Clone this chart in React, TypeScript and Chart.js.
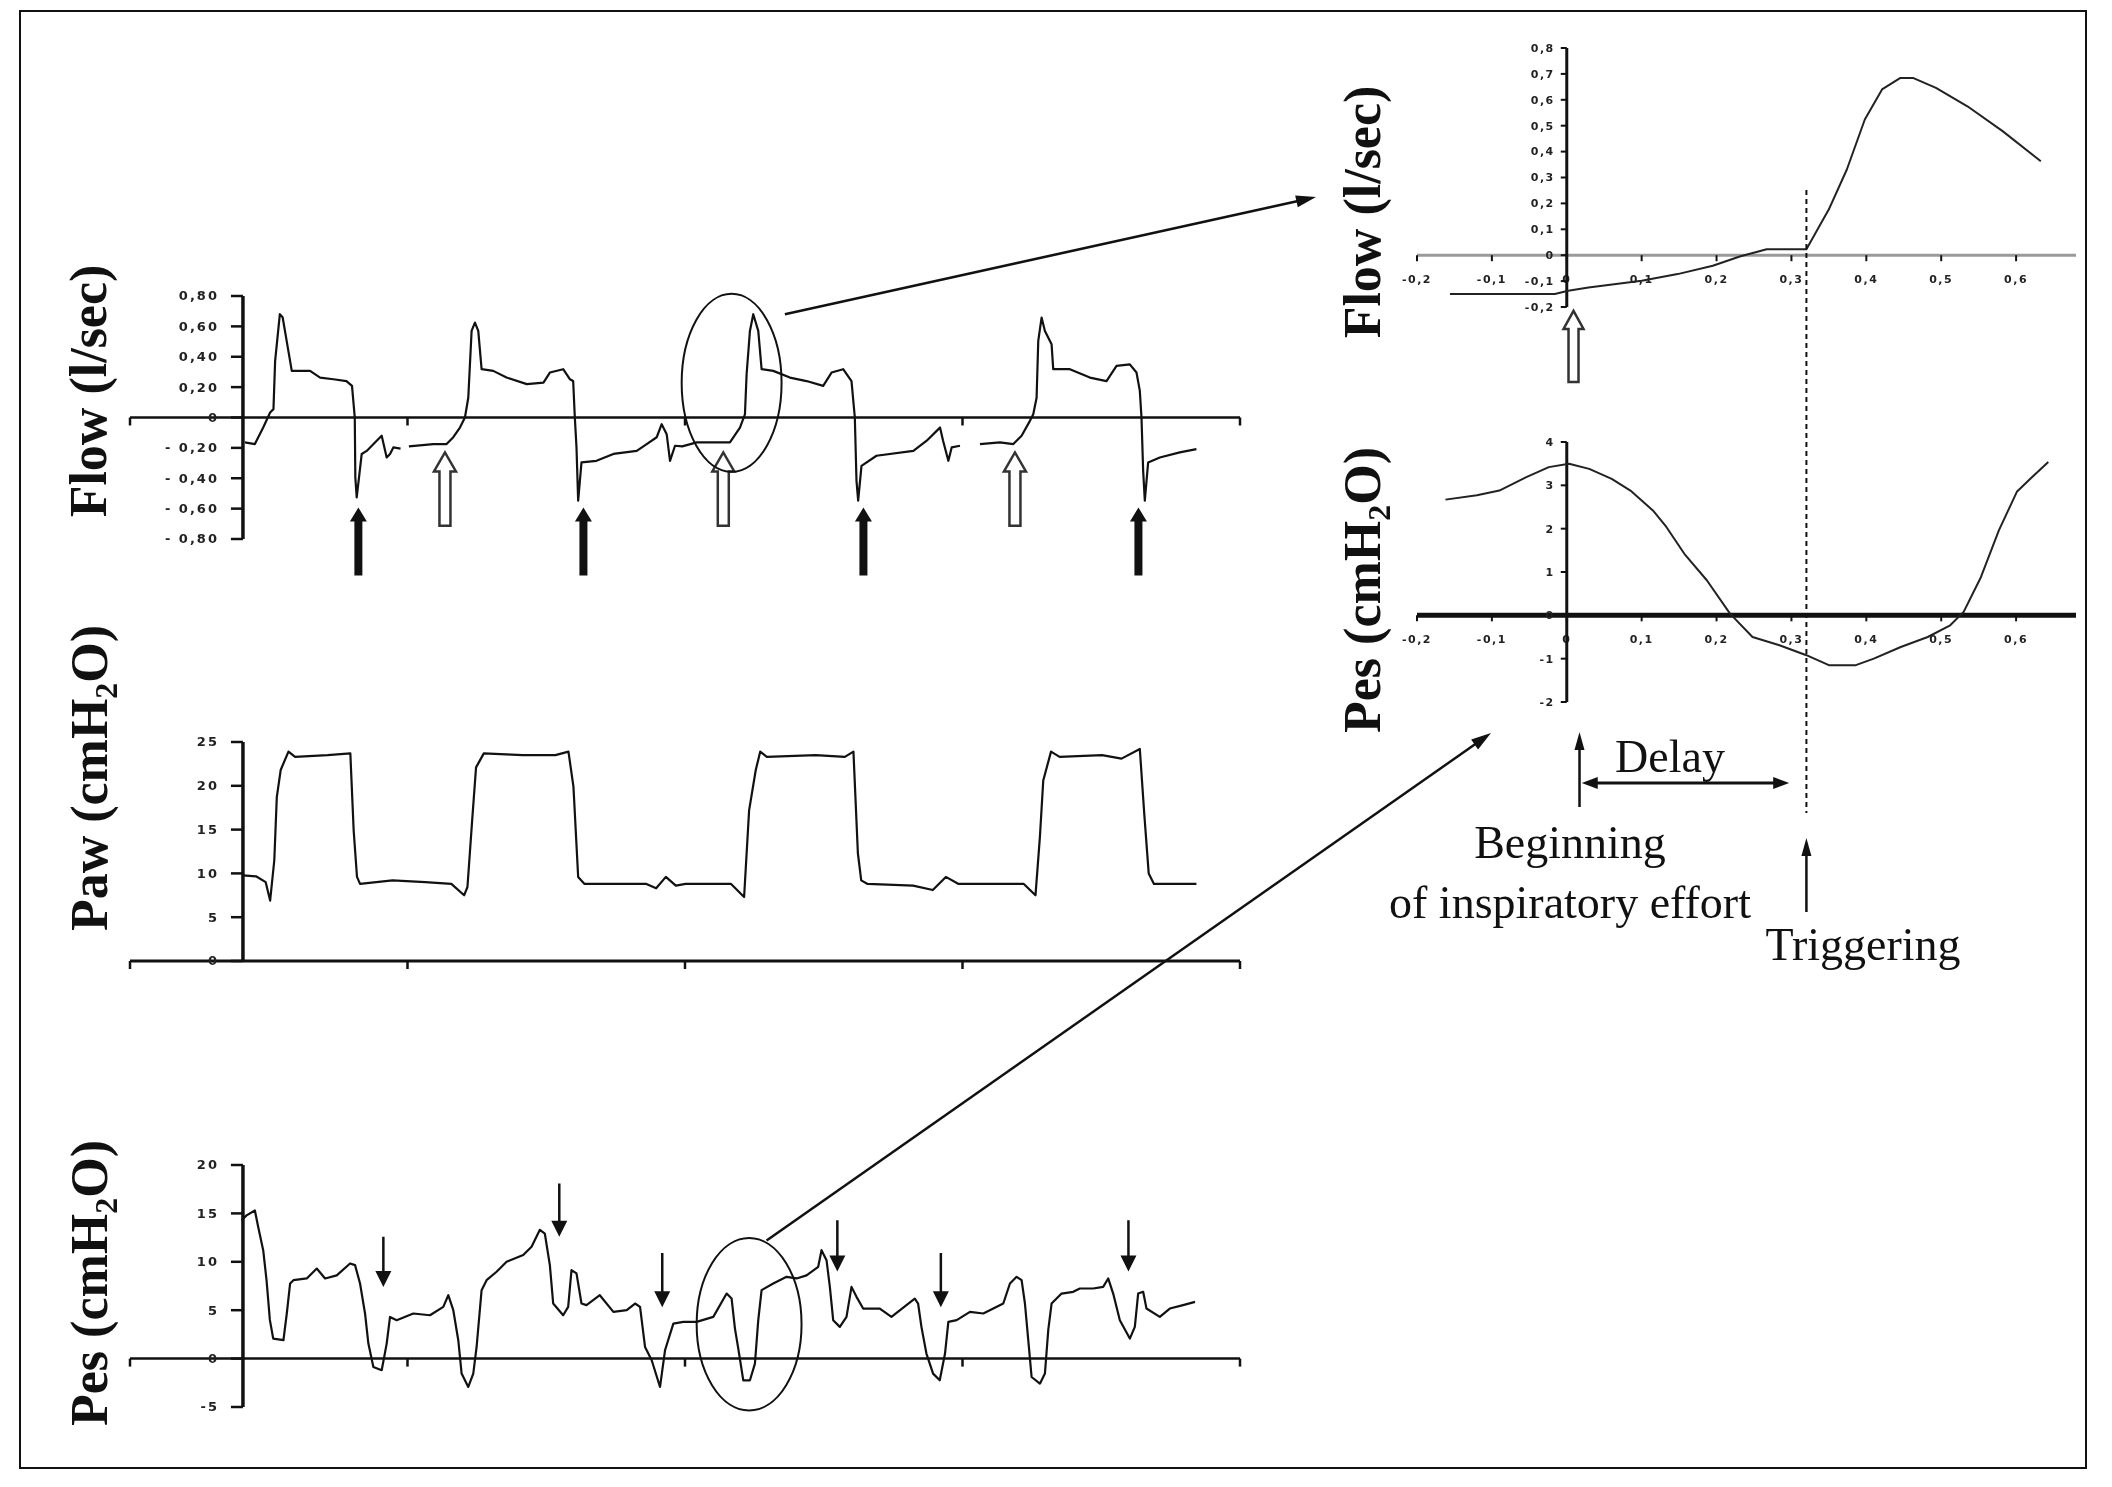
import React, { useEffect, useRef } from "react";
import { Chart, registerables } from "chart.js";

Chart.register(...registerables);

const PAGE_W = 2112;
const PAGE_H = 1487;

// ================= LEFT PANELS (shared time axis, arbitrary units) =================
const leftTimeTicks = [0, 1, 2, 3, 4];
const leftYAxisTime = 0.407;

// Flow (l/sec)
const flowTime = [
  0.414, 0.45, 0.48, 0.505, 0.517, 0.523, 0.54, 0.55, 0.565, 0.583,
  0.649, 0.685, 0.733, 0.78, 0.8, 0.81, 0.812, 0.817, 0.835, 0.853,
  0.889, 0.907, 0.925, 0.937, 0.949, 0.975, 0.99, 1.005, 1.093, 1.141,
  1.165, 1.189, 1.207, 1.219, 1.231, 1.243, 1.255, 1.267, 1.309, 1.357,
  1.43, 1.49, 1.513, 1.561, 1.585, 1.597, 1.603, 1.609, 1.615, 1.627,
  1.681, 1.742, 1.826, 1.862, 1.898, 1.916, 1.934, 1.946, 1.964, 1.99,
  2.042, 2.162, 2.198, 2.216, 2.222, 2.234, 2.246, 2.264, 2.276, 2.318,
  2.378, 2.438, 2.498, 2.528, 2.57, 2.6, 2.612, 2.618, 2.624, 2.636,
  2.69, 2.823, 2.871, 2.907, 2.919, 2.93, 2.949, 2.961, 2.991, 3.03,
  3.063, 3.135, 3.183, 3.213, 3.243, 3.255, 3.267, 3.273, 3.285, 3.297,
  3.321, 3.327, 3.387, 3.459, 3.519, 3.555, 3.603, 3.627, 3.639, 3.645,
  3.651, 3.657, 3.669, 3.711, 3.783, 3.843,
];
const flowValue = [
  -0.164, -0.175, -0.066, 0.033, 0.055, 0.373, 0.68, 0.66, 0.5, 0.307,
  0.307, 0.263, 0.252, 0.24, 0.208, 0, -0.395, -0.526, -0.24, -0.22,
  -0.153, -0.12, -0.263, -0.24, -0.197, -0.205, null, -0.19, -0.175, -0.175,
  -0.13, -0.066, 0, 0.13, 0.57, 0.625, 0.57, 0.318, 0.307, 0.263,
  0.22, 0.23, 0.296, 0.318, 0.252, 0.24, 0, -0.197, -0.548, -0.296,
  -0.285, -0.24, -0.22, -0.175, -0.13, -0.044, -0.11, -0.285, -0.186, -0.19,
  -0.164, -0.164, -0.066, 0.02, 0.285, 0.57, 0.68, 0.57, 0.318, 0.307,
  0.263, 0.24, 0.208, 0.296, 0.318, 0.24, 0, -0.417, -0.548, -0.318,
  -0.252, -0.22, -0.153, -0.088, -0.066, -0.153, -0.285, -0.197, -0.186, null,
  -0.175, -0.164, -0.175, -0.12, -0.022, 0.022, 0.13, 0.504, 0.658, 0.57,
  0.482, 0.318, 0.318, 0.263, 0.24, 0.34, 0.35, 0.296, 0.175, 0,
  -0.35, -0.548, -0.296, -0.263, -0.23, -0.208,
];
const flowYTicks = [0.8, 0.6, 0.4, 0.2, 0, -0.2, -0.4, -0.6, -0.8];
const flowYTickLabels = ["0,80", "0,60", "0,40", "0,20", "0", "- 0,20", "- 0,40", "- 0,60", "- 0,80"];
const flowCycleArrowTimes = [0.823, 1.634, 2.643, 3.634]; // filled arrows
const flowEffortArrowTimes = [1.135, 2.138, 3.189]; // hollow arrows

// Paw (cmH2O)
const pawTime = [
  0.407, 0.454, 0.489, 0.505, 0.52, 0.529, 0.543, 0.571, 0.595, 0.712,
  0.794, 0.806, 0.818, 0.829, 0.946, 1.064, 1.158, 1.204, 1.216, 1.233,
  1.247, 1.275, 1.415, 1.533, 1.58, 1.598, 1.615, 1.638, 1.767, 1.861,
  1.896, 1.931, 1.967, 2.002, 2.166, 2.213, 2.231, 2.255, 2.271, 2.295,
  2.471, 2.576, 2.607, 2.623, 2.635, 2.658, 2.822, 2.893, 2.94, 2.986,
  3.221, 3.263, 3.279, 3.291, 3.319, 3.35, 3.503, 3.573, 3.639, 3.655,
  3.671, 3.69, 3.843,
];
const pawValue = [
  9.78, 9.67, 9.0, 6.9, 11.5, 18.7, 21.8, 23.9, 23.3, 23.5,
  23.7, 14.9, 9.6, 8.8, 9.2, 9.0, 8.8, 7.5, 8.45, 16.06,
  22.1, 23.7, 23.5, 23.5, 23.9, 19.9, 9.6, 8.8, 8.8, 8.8,
  8.3, 9.6, 8.6, 8.8, 8.8, 7.3, 17.2, 21.8, 23.9, 23.3,
  23.5, 23.3, 23.9, 12.3, 9.2, 8.8, 8.6, 8.1, 9.6, 8.8,
  8.8, 7.5, 14.2, 20.6, 23.9, 23.3, 23.5, 23.1, 24.2, 16.8,
  10.0, 8.8, 8.8,
];
const pawYTicks = [25, 20, 15, 10, 5, 0];
const pawYTickLabels = ["25", "20", "15", "10", "5", "0"];

// Pes (cmH2O)
const pesTime = [
  0.402, 0.42, 0.45, 0.462, 0.48, 0.492, 0.504, 0.516, 0.553, 0.565,
  0.577, 0.589, 0.637, 0.673, 0.703, 0.745, 0.793, 0.811, 0.829, 0.847,
  0.859, 0.877, 0.907, 0.925, 0.937, 0.961, 1.021, 1.081, 1.129, 1.147,
  1.165, 1.183, 1.195, 1.219, 1.237, 1.249, 1.267, 1.285, 1.321, 1.357,
  1.417, 1.447, 1.477, 1.495, 1.513, 1.525, 1.561, 1.579, 1.591, 1.609,
  1.627, 1.645, 1.693, 1.742, 1.79, 1.82, 1.838, 1.856, 1.88, 1.91,
  1.928, 1.958, 1.994, 2.042, 2.102, 2.15, 2.168, 2.18, 2.192, 2.21,
  2.234, 2.252, 2.264, 2.276, 2.318, 2.366, 2.402, 2.438, 2.48, 2.492,
  2.51, 2.522, 2.534, 2.558, 2.582, 2.6, 2.618, 2.642, 2.702, 2.744,
  2.798, 2.828, 2.84, 2.852, 2.87, 2.894, 2.918, 2.937, 2.949, 2.979,
  3.027, 3.075, 3.111, 3.147, 3.171, 3.195, 3.213, 3.225, 3.237, 3.249,
  3.279, 3.297, 3.309, 3.321, 3.357, 3.399, 3.423, 3.471, 3.507, 3.525,
  3.543, 3.567, 3.603, 3.621, 3.633, 3.651, 3.663, 3.711, 3.747, 3.795,
  3.838,
];
const pesValue = [
  14.3, 14.8, 15.3, 13.6, 11.2, 8.1, 4.0, 2.07, 1.9, 4.66,
  7.76, 8.1, 8.28, 9.3, 8.28, 8.6, 9.83, 9.66, 7.76, 4.66,
  1.55, -0.86, -1.2, 1.55, 4.3, 3.97, 4.66, 4.48, 5.34, 6.55,
  5.0, 1.9, -1.55, -2.93, -1.55, 1.2, 7.07, 8.1, 8.97, 10.0,
  10.7, 11.55, 13.3, 12.9, 9.66, 5.69, 4.48, 5.34, 9.14, 8.8,
  5.69, 5.52, 6.55, 4.83, 5.0, 5.69, 5.34, 1.2, -0.17, -2.93,
  0.86, 3.62, 3.79, 3.79, 4.31, 6.72, 6.2, 3.1, 1.03, -2.24,
  -2.24, -0.52, 3.97, 7.07, 7.76, 8.45, 8.28, 8.6, 9.48, 11.2,
  10.17, 7.41, 3.97, 3.28, 4.31, 7.41, 6.38, 5.17, 5.17, 4.31,
  5.52, 6.2, 5.69, 3.28, 0.52, -1.55, -2.24, 0.52, 3.79, 3.97,
  4.83, 4.66, 5.17, 5.69, 7.76, 8.45, 8.1, 5.69, 1.9, -1.9,
  -2.59, -1.55, 2.93, 5.69, 6.72, 6.9, 7.24, 7.24, 7.41, 8.28,
  6.72, 3.97, 2.07, 3.28, 6.72, 6.9, 5.17, 4.31, 5.17, 5.52,
  5.86,
];
const pesYTicks = [20, 15, 10, 5, 0, -5];
const pesYTickLabels = ["20", "15", "10", "5", "0", "-5"];
const pesArrowTimes = [0.913, 1.547, 1.918, 2.549, 2.922, 3.598];
const pesArrowTails = [12.6, 18.1, 10.9, 14.3, 10.9, 14.3];
const pesArrowTips = [7.4, 12.6, 5.3, 9.0, 5.3, 9.0];

// ================= RIGHT (ZOOMED) PANELS =================
const zoomTimeTicks = [-0.2, -0.1, 0, 0.1, 0.2, 0.3, 0.4, 0.5, 0.6];
const zoomTimeLabels = ["-0,2", "-0,1", "0", "0,1", "0,2", "0,3", "0,4", "0,5", "0,6"];

const zoomFlowTime = [
  -0.156, -0.016, 0.002, 0.029, 0.1, 0.148, 0.195, 0.231, 0.267, 0.32,
  0.35, 0.374, 0.398, 0.421, 0.445, 0.463, 0.493, 0.535, 0.582, 0.633,
];
const zoomFlowValue = [
  -0.15, -0.15, -0.137, -0.125, -0.099, -0.073, -0.041, -0.005, 0.023, 0.023,
  0.177, 0.331, 0.524, 0.64, 0.684, 0.684, 0.646, 0.575, 0.479, 0.363,
];
const zoomFlowYTicks = [0.8, 0.7, 0.6, 0.5, 0.4, 0.3, 0.2, 0.1, 0, -0.1, -0.2];
const zoomFlowYTickLabels = ["0,8", "0,7", "0,6", "0,5", "0,4", "0,3", "0,2", "0,1", "0", "-0,1", "-0,2"];

const zoomPesTime = [
  -0.162, -0.12, -0.09, -0.054, -0.024, 0.003, 0.03, 0.06, 0.085, 0.115,
  0.133, 0.157, 0.187, 0.218, 0.248, 0.284, 0.32, 0.35, 0.386, 0.41,
  0.446, 0.482, 0.512, 0.53, 0.553, 0.577, 0.601, 0.619, 0.643,
];
const zoomPesValue = [
  2.67, 2.77, 2.88, 3.19, 3.42, 3.5, 3.38, 3.15, 2.88, 2.42,
  2.04, 1.42, 0.81, 0.04, -0.5, -0.69, -0.92, -1.15, -1.15, -1.0,
  -0.73, -0.5, -0.23, 0.08, 0.88, 1.96, 2.85, 3.15, 3.54,
];
const zoomPesYTicks = [4, 3, 2, 1, 0, -1, -2];
const zoomPesYTickLabels = ["4", "3", "2", "1", "0", "-1", "-2"];

const effortStartTime = 0.017;
const triggerTime = 0.32;

// ================= drawing helpers =================
const INK = "#111";

function blockArrow(ctx: any, x: number, yTail: number, yTip: number, shaftW: number, headW: number, headL: number, fill: string | null, stroke: string | null, lw = 2) {
  const d = yTip > yTail ? 1 : -1;
  const yb = yTip - d * headL;
  ctx.beginPath();
  ctx.moveTo(x - shaftW / 2, yTail);
  ctx.lineTo(x - shaftW / 2, yb);
  ctx.lineTo(x - headW / 2, yb);
  ctx.lineTo(x, yTip);
  ctx.lineTo(x + headW / 2, yb);
  ctx.lineTo(x + shaftW / 2, yb);
  ctx.lineTo(x + shaftW / 2, yTail);
  ctx.closePath();
  if (fill) {
    ctx.fillStyle = fill;
    ctx.fill();
  }
  if (stroke) {
    ctx.strokeStyle = stroke;
    ctx.lineWidth = lw;
    ctx.lineJoin = "miter";
    ctx.stroke();
  }
}

function arrowHead(ctx: any, x: number, y: number, ang: number, L: number, W: number) {
  const c = Math.cos(ang), s = Math.sin(ang);
  ctx.beginPath();
  ctx.moveTo(x, y);
  ctx.lineTo(x - L * c + (W / 2) * s, y - L * s - (W / 2) * c);
  ctx.lineTo(x - L * c - (W / 2) * s, y - L * s + (W / 2) * c);
  ctx.closePath();
  ctx.fill();
}

function lineArrow(ctx: any, x1: number, y1: number, x2: number, y2: number, lw: number, L: number, W: number, both = false) {
  const ang = Math.atan2(y2 - y1, x2 - x1);
  const c = Math.cos(ang), s = Math.sin(ang);
  ctx.strokeStyle = INK;
  ctx.fillStyle = INK;
  ctx.lineWidth = lw;
  ctx.beginPath();
  ctx.moveTo(both ? x1 + c * L * 0.8 : x1, both ? y1 + s * L * 0.8 : y1);
  ctx.lineTo(x2 - c * L * 0.8, y2 - s * L * 0.8);
  ctx.stroke();
  arrowHead(ctx, x2, y2, ang, L, W);
  if (both) arrowHead(ctx, x1, y1, ang + Math.PI, L, W);
}

type TitlePart = { text: string; sub?: boolean };

function drawTitle(ctx: any, cx: number, cy: number, parts: TitlePart[], size: number) {
  ctx.save();
  ctx.translate(cx, cy);
  ctx.rotate(-Math.PI / 2);
  const mainFont = `bold ${size}px "Liberation Serif", "Times New Roman", serif`;
  const subFont = `bold ${Math.round(size * 0.62)}px "Liberation Serif", "Times New Roman", serif`;
  let total = 0;
  const widths = parts.map((p) => {
    ctx.font = p.sub ? subFont : mainFont;
    const w = ctx.measureText(p.text).width;
    total += w;
    return w;
  });
  let x = -total / 2;
  ctx.fillStyle = INK;
  ctx.textBaseline = "alphabetic";
  ctx.textAlign = "left";
  parts.forEach((p, i) => {
    ctx.font = p.sub ? subFont : mainFont;
    ctx.fillText(p.text, x, size * 0.34 + (p.sub ? size * 0.2 : 0));
    x += widths[i];
  });
  ctx.restore();
}

// ================= panel specifications =================
type PanelSpec = {
  key: string;
  time: number[];
  value: (number | null)[];
  xMin: number; xMax: number; yMin: number; yMax: number;
  area: { left: number; top: number; right: number; bottom: number };
  yAxisAt: number;
  xAxisAt: number;
  yTicks: number[];
  yLabels: string[];
  xTicks: number[];
  xLabels: string[] | null;
  small: boolean;
  lineWidth: number;
  lineColor: string;
  xAxisColor: string;
  xAxisWidth: number;
  yAxisWidth: number;
  title: TitlePart[];
  titleAt: [number, number];
  extra?: (chart: any, ctx: any) => void;
};

const LEFT_X = { xMin: 0, xMax: 4 };
const RIGHT_X = { xMin: -0.2, xMax: 0.68 };

const panels: PanelSpec[] = [
  {
    key: "flow",
    time: flowTime, value: flowValue,
    ...LEFT_X, yMin: -0.8, yMax: 0.8,
    area: { left: 130, top: 296, right: 1240, bottom: 539 },
    yAxisAt: leftYAxisTime, xAxisAt: 0,
    yTicks: flowYTicks, yLabels: flowYTickLabels,
    xTicks: leftTimeTicks, xLabels: null,
    small: false, lineWidth: 2.2, lineColor: INK,
    xAxisColor: INK, xAxisWidth: 2.5, yAxisWidth: 3.5,
    title: [{ text: "Flow (l/sec)" }], titleAt: [88, 391],
    extra: (chart, ctx) => {
      const xs = chart.scales.x, ys = chart.scales.y;
      flowCycleArrowTimes.forEach((t) => {
        blockArrow(ctx, xs.getPixelForValue(t), ys.getPixelForValue(-1.04), ys.getPixelForValue(-0.592), 8, 17, 14, INK, null);
      });
      flowEffortArrowTimes.forEach((t) => {
        blockArrow(ctx, xs.getPixelForValue(t), ys.getPixelForValue(-0.713), ys.getPixelForValue(-0.23), 11, 22, 19, "#fff", "#333", 2.5);
      });
      // ellipse
      const cx = xs.getPixelForValue(2.168), cy = ys.getPixelForValue(0.228);
      const rx = Math.abs(xs.getPixelForValue(2.348) - cx), ry = Math.abs(ys.getPixelForValue(0.228 + 0.586) - cy);
      ctx.strokeStyle = INK;
      ctx.lineWidth = 2;
      ctx.beginPath();
      ctx.ellipse(cx, cy, rx, ry, 0, 0, Math.PI * 2);
      ctx.stroke();
      // long arrow to the zoomed flow panel
      lineArrow(ctx, xs.getPixelForValue(2.36), ys.getPixelForValue(0.68), 1316, 197, 2.5, 20, 12);
    },
  },
  {
    key: "paw",
    time: pawTime, value: pawValue,
    ...LEFT_X, yMin: 0, yMax: 25,
    area: { left: 130, top: 742, right: 1240, bottom: 961 },
    yAxisAt: leftYAxisTime, xAxisAt: 0,
    yTicks: pawYTicks, yLabels: pawYTickLabels,
    xTicks: leftTimeTicks, xLabels: null,
    small: false, lineWidth: 2.2, lineColor: INK,
    xAxisColor: INK, xAxisWidth: 3, yAxisWidth: 3.5,
    title: [{ text: "Paw (cmH" }, { text: "2", sub: true }, { text: "O)" }], titleAt: [89, 778],
  },
  {
    key: "pes",
    time: pesTime, value: pesValue,
    ...LEFT_X, yMin: -5, yMax: 20,
    area: { left: 130, top: 1165, right: 1240, bottom: 1407 },
    yAxisAt: leftYAxisTime, xAxisAt: 0,
    yTicks: pesYTicks, yLabels: pesYTickLabels,
    xTicks: leftTimeTicks, xLabels: null,
    small: false, lineWidth: 2.2, lineColor: INK,
    xAxisColor: INK, xAxisWidth: 2.5, yAxisWidth: 3.5,
    title: [{ text: "Pes (cmH" }, { text: "2", sub: true }, { text: "O)" }], titleAt: [89, 1283],
    extra: (chart, ctx) => {
      const xs = chart.scales.x, ys = chart.scales.y;
      pesArrowTimes.forEach((t, i) => {
        const x = xs.getPixelForValue(t);
        blockArrow(ctx, x, ys.getPixelForValue(pesArrowTails[i]), ys.getPixelForValue(pesArrowTips[i]), 2.5, 16, 16, INK, null);
      });
      const cx = xs.getPixelForValue(2.231), cy = ys.getPixelForValue(3.55);
      const rx = Math.abs(xs.getPixelForValue(2.231 + 0.189) - cx), ry = Math.abs(ys.getPixelForValue(3.55 + 8.9) - cy);
      ctx.strokeStyle = INK;
      ctx.lineWidth = 2;
      ctx.beginPath();
      ctx.ellipse(cx, cy, rx, ry, 0, 0, Math.PI * 2);
      ctx.stroke();
      lineArrow(ctx, xs.getPixelForValue(2.294), ys.getPixelForValue(12.2), 1491, 733, 2.5, 20, 12);
    },
  },
  {
    key: "zflow",
    time: zoomFlowTime, value: zoomFlowValue,
    ...RIGHT_X, yMin: -0.2, yMax: 0.8,
    area: { left: 1417, top: 48, right: 2076, bottom: 307 },
    yAxisAt: 0, xAxisAt: 0,
    yTicks: zoomFlowYTicks, yLabels: zoomFlowYTickLabels,
    xTicks: zoomTimeTicks, xLabels: zoomTimeLabels,
    small: true, lineWidth: 2, lineColor: "#222",
    xAxisColor: "#9a9a9a", xAxisWidth: 3, yAxisWidth: 3,
    title: [{ text: "Flow (l/sec)" }], titleAt: [1362, 212],
    extra: (chart, ctx) => {
      const xs = chart.scales.x, ys = chart.scales.y;
      blockArrow(ctx, xs.getPixelForValue(0.009), ys.getPixelForValue(-0.49), ys.getPixelForValue(-0.215), 10, 20, 18, "#fff", "#333", 2.5);
    },
  },
  {
    key: "zpes",
    time: zoomPesTime, value: zoomPesValue,
    ...RIGHT_X, yMin: -2, yMax: 4,
    area: { left: 1417, top: 442, right: 2076, bottom: 702 },
    yAxisAt: 0, xAxisAt: 0,
    yTicks: zoomPesYTicks, yLabels: zoomPesYTickLabels,
    xTicks: zoomTimeTicks, xLabels: zoomTimeLabels,
    small: true, lineWidth: 2, lineColor: "#222",
    xAxisColor: INK, xAxisWidth: 5, yAxisWidth: 3,
    title: [{ text: "Pes (cmH" }, { text: "2", sub: true }, { text: "O)" }], titleAt: [1362, 590],
    extra: (chart, ctx) => {
      const xs = chart.scales.x;
      // page frame
      ctx.strokeStyle = INK;
      ctx.lineWidth = 2;
      ctx.strokeRect(20, 11, 2066, 1457);
      // triggering dashed line
      const xt = xs.getPixelForValue(triggerTime);
      ctx.save();
      ctx.setLineDash([5, 4]);
      ctx.lineWidth = 2;
      ctx.beginPath();
      ctx.moveTo(xt, 190);
      ctx.lineTo(xt, 813);
      ctx.stroke();
      ctx.restore();
      // beginning-of-effort arrow
      const xb = xs.getPixelForValue(effortStartTime);
      lineArrow(ctx, xb, 807, xb, 732, 2.5, 18, 10);
      // delay double arrow
      lineArrow(ctx, xs.getPixelForValue(0.02), 783, xs.getPixelForValue(0.297), 783, 3, 16, 12, true);
      // triggering arrow
      lineArrow(ctx, xt, 912, xt, 838, 2.5, 18, 10);
      // texts
      ctx.fillStyle = INK;
      ctx.font = '46px "Liberation Serif", "Times New Roman", serif';
      ctx.textAlign = "center";
      ctx.textBaseline = "alphabetic";
      ctx.fillText("Delay", 1670, 772);
      ctx.fillText("Beginning", 1570, 858);
      ctx.fillText("of inspiratory effort", 1570, 918);
      ctx.fillText("Triggering", 1863, 960);
    },
  },
];

function axesPlugin(p: PanelSpec) {
  return {
    id: "axes_" + p.key,
    beforeDatasetsDraw(chart: any) {
      const ctx = chart.ctx;
      const xs = chart.scales.x, ys = chart.scales.y;
      ctx.save();
      ctx.lineCap = "butt";
      // horizontal axis
      const y0 = ys.getPixelForValue(p.xAxisAt);
      ctx.strokeStyle = p.xAxisColor;
      ctx.lineWidth = p.xAxisWidth;
      ctx.beginPath();
      ctx.moveTo(xs.getPixelForValue(p.xMin), y0);
      ctx.lineTo(xs.getPixelForValue(p.xMax), y0);
      ctx.stroke();
      ctx.strokeStyle = INK;
      ctx.lineWidth = p.small ? 2 : 2.5;
      p.xTicks.forEach((t) => {
        const x = xs.getPixelForValue(t);
        ctx.beginPath();
        ctx.moveTo(x, y0);
        ctx.lineTo(x, y0 + (p.small ? 6 : 8));
        ctx.stroke();
      });
      const labelFont = p.small ? 'bold 11px "DejaVu Sans", sans-serif' : 'bold 13px "DejaVu Sans", sans-serif';
      ctx.fillStyle = "#222";
      ctx.font = labelFont;
      try { (ctx as any).letterSpacing = p.small ? "1.5px" : "2px"; } catch (e) { /* ignore */ }
      if (p.xLabels) {
        ctx.textAlign = "center";
        ctx.textBaseline = "middle";
        p.xTicks.forEach((t, i) => {
          ctx.fillText(p.xLabels![i], xs.getPixelForValue(t), y0 + 25);
        });
      }
      // vertical axis
      const x0 = xs.getPixelForValue(p.yAxisAt);
      const yTop = ys.getPixelForValue(Math.max(...p.yTicks));
      const yBot = ys.getPixelForValue(Math.min(...p.yTicks));
      ctx.strokeStyle = INK;
      ctx.lineWidth = p.yAxisWidth;
      ctx.beginPath();
      ctx.moveTo(x0, yTop);
      ctx.lineTo(x0, yBot);
      ctx.stroke();
      const tl = p.small ? 6 : 12;
      ctx.lineWidth = p.small ? 2 : 2.5;
      ctx.textAlign = "right";
      ctx.textBaseline = "middle";
      p.yTicks.forEach((v, i) => {
        const y = ys.getPixelForValue(v);
        ctx.beginPath();
        ctx.moveTo(x0 - tl, y);
        ctx.lineTo(x0, y);
        ctx.stroke();
        ctx.fillText(p.yLabels[i], x0 - (p.small ? 12 : 24), y + 1);
      });
      try { (ctx as any).letterSpacing = "0px"; } catch (e) { /* ignore */ }
      drawTitle(ctx, p.titleAt[0], p.titleAt[1], p.title, 52);
      ctx.restore();
    },
    afterDatasetsDraw(chart: any) {
      if (!p.extra) return;
      const ctx = chart.ctx;
      ctx.save();
      p.extra(chart, ctx);
      ctx.restore();
    },
  };
}

function buildConfig(p: PanelSpec): any {
  const points = p.time.map((t, i) => ({ x: t, y: p.value[i] }));
  return {
    type: "line",
    data: {
      datasets: [
        {
          data: points,
          borderColor: p.lineColor,
          borderWidth: p.lineWidth,
          pointRadius: 0,
          tension: 0,
          fill: false,
          spanGaps: false,
          borderJoinStyle: "round",
        },
      ],
    },
    options: {
      responsive: false,
      animation: false,
      events: [],
      layout: {
        padding: {
          left: p.area.left,
          top: p.area.top,
          right: PAGE_W - p.area.right,
          bottom: PAGE_H - p.area.bottom,
        },
      },
      scales: {
        x: { type: "linear", min: p.xMin, max: p.xMax, display: false },
        y: { type: "linear", min: p.yMin, max: p.yMax, display: false },
      },
      plugins: {
        legend: { display: false },
        tooltip: { enabled: false },
        title: { display: false },
      },
    },
    plugins: [axesPlugin(p)],
  };
}

export default function App() {
  const canvases = useRef<(HTMLCanvasElement | null)[]>([]);
  useEffect(() => {
    const charts = panels.map((p, i) => new Chart(canvases.current[i] as HTMLCanvasElement, buildConfig(p)));
    return () => {
      charts.forEach((c) => c.destroy());
    };
  }, []);
  return (
    <div style={{ position: "absolute", left: 0, top: 0, width: PAGE_W, height: PAGE_H, background: "#fff", overflow: "hidden" }}>
      {panels.map((p, i) => (
        <canvas
          key={p.key}
          ref={(el) => {
            canvases.current[i] = el;
          }}
          width={PAGE_W}
          height={PAGE_H}
          style={{ position: "absolute", left: 0, top: 0, width: PAGE_W, height: PAGE_H }}
        />
      ))}
    </div>
  );
}
